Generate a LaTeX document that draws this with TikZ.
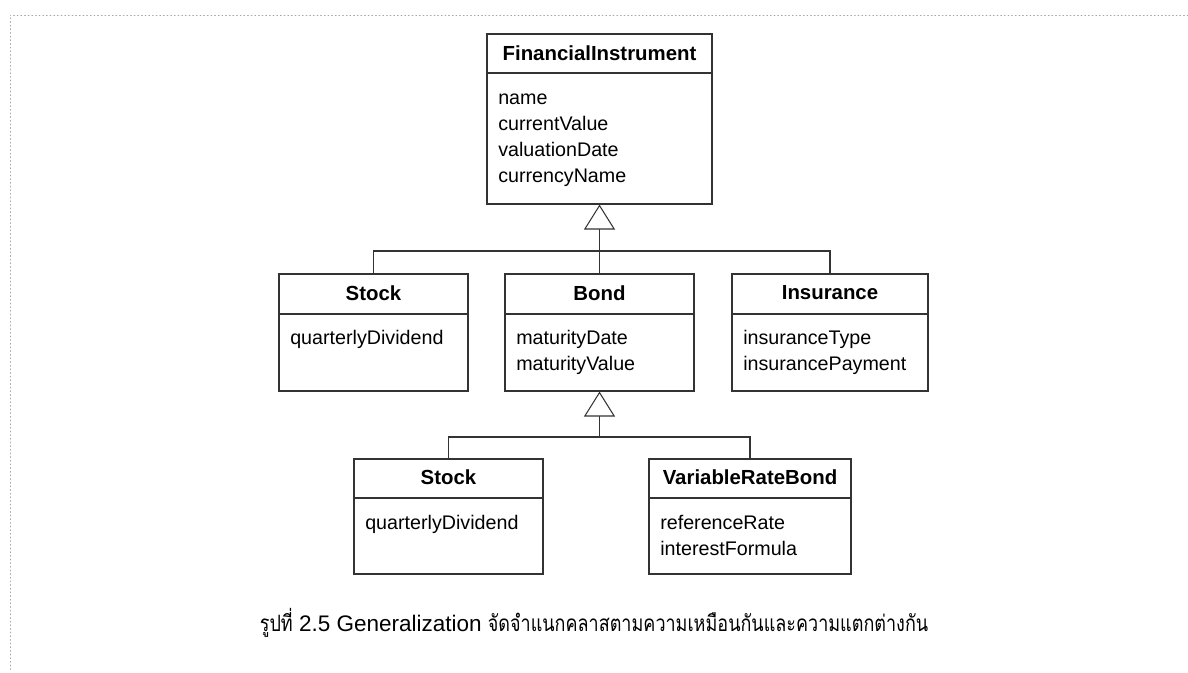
\documentclass[tikz,border=0pt]{standalone}
\usepackage{fontspec}
\setmainfont{Liberation Sans}
\newfontfamily\thaifont[Script=Thai, FakeStretch=0.8]{Loma}
\usetikzlibrary{arrows.meta,fit}

\begin{document}
\begin{tikzpicture}
        [x=0.025cm, y=-0.025cm, line cap=round,
        % Styles
        class box/.style={draw=black!80, line width=0.75pt, inner sep=0pt},
        class name/.style={font=\fontsize{14.5}{17}\selectfont\bfseries, inner sep=0pt},
        attribute/.style={font=\fontsize{14}{17}\selectfont, anchor=base west, inner sep=0pt},
        divider/.style={draw=black!80, line width=0.75pt},
        link/.style={draw=black!80, line width=0.75pt},
        inherits/.style={link, -{Triangle[open, fill=white, length=0.625cm, width=0.775cm]}},
        frame line/.style={black!35, dotted, line width=0.6pt}]

        \useasboundingbox (0,0) rectangle (1188,672);

        % Frame
        \draw[frame line] (1188,15) -- (10,15) -- (10,672);

        % Classes
        \node[class box, fit={(487,34) (712,204)}] (instrument) {};
        \node[class box, fit={(279,274) (468,391)}] (stock) {};
        \node[class box, fit={(505,274) (694,391)}] (bond) {};
        \node[class box, fit={(732,274) (928,391)}] (insurance) {};
        \node[class box, fit={(354,459) (543,574)}] (substock) {};
        \node[class box, fit={(649,459) (851,574)}] (varbond) {};

        % Names and dividers
        \node[class name] (instrument-name) at (instrument.north |- 0,53) {FinancialInstrument};
        \draw[divider] (instrument.west |- 0,73) -- (instrument.east |- 0,73);

        \foreach \cls/\title in {stock/Stock, bond/Bond, insurance/Insurance}
        {
                \node[class name] (\cls-name) at (\cls.north |- 0,293) {\title};
                \draw[divider] (\cls.west |- 0,314) -- (\cls.east |- 0,314);
        }
        \foreach \cls/\title in {substock/Stock, varbond/VariableRateBond}
        {
                \node[class name] (\cls-name) at (\cls.north |- 0,477) {\title};
                \draw[divider] (\cls.west |- 0,498) -- (\cls.east |- 0,498);
        }

        % Attributes
        \foreach \attr [count=\i] in {name, currentValue, valuationDate, currencyName}
                \node[attribute] (instrument-\i) at (498,{78+26*\i}) {\attr};
        \node[attribute] (stock-1) at (290,344) {quarterlyDividend};
        \foreach \attr [count=\i] in {maturityDate, maturityValue}
                \node[attribute] (bond-\i) at (516,{318+26*\i}) {\attr};
        \foreach \attr [count=\i] in {insuranceType, insurancePayment}
                \node[attribute] (insurance-\i) at (743,{318+26*\i}) {\attr};
        \node[attribute] (substock-1) at (365,529) {quarterlyDividend};
        \foreach \attr [count=\i] in {referenceRate, interestFormula}
                \node[attribute] (varbond-\i) at (660,{503+26*\i}) {\attr};

        % Generalization
        \coordinate (instrument-join) at (instrument.south |- 0,251);
        \draw[inherits] (instrument-join) -- (instrument.south);
        \draw[link] (stock.north) |- (instrument-join) -| (insurance.north);
        \draw[link] (bond.north) -- (instrument-join);

        \coordinate (bond-join) at (bond.south |- 0,437);
        \draw[inherits] (bond-join) -- (bond.south);
        \draw[link] (substock.north) |- (bond-join) -| (varbond.north);

        % Caption
        \node[font=\fontsize{16}{19}\selectfont] (caption) at (594,623)
                {{\thaifont รูปที่} 2.5 Generalization {\thaifont จัดจำแนกคลาสตามความเหมือนกันและความแตกต่างกัน}};
\end{tikzpicture}
\end{document}
